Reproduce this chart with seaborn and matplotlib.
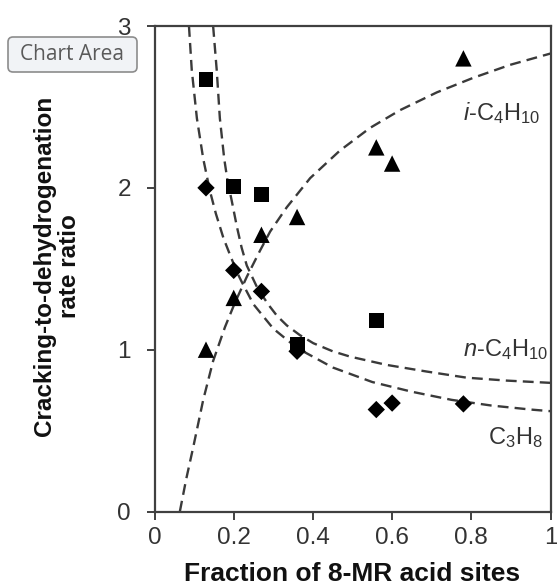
import matplotlib
matplotlib.use("Agg")
import matplotlib.pyplot as plt
import pandas as pd
import seaborn as sns
from matplotlib.patches import FancyBboxPatch

# Measured rate ratios vs. fraction of 8-MR acid sites
frac_nbutane = [0.13, 0.20, 0.27, 0.36, 0.56]
ratio_nbutane = [2.67, 2.01, 1.96, 1.03, 1.18]

frac_propane = [0.13, 0.20, 0.27, 0.36, 0.56, 0.60, 0.78]
ratio_propane = [2.00, 1.49, 1.36, 0.99, 0.63, 0.67, 0.665]

frac_isobutane = [0.13, 0.20, 0.27, 0.36, 0.56, 0.60, 0.78]
ratio_isobutane = [1.00, 1.32, 1.71, 1.82, 2.25, 2.15, 2.80]

# Model curves (dashed)
fit_propane_x = [0.087, 0.094, 0.107, 0.123, 0.140, 0.155, 0.174, 0.190, 0.208,
                 0.220, 0.250, 0.300, 0.360, 0.450, 0.550, 0.650, 0.750, 0.850,
                 0.950, 1.000]
fit_propane_y = [3.00, 2.73, 2.43, 2.18, 1.98, 1.84, 1.69, 1.59, 1.48,
                 1.42, 1.28, 1.13, 1.01, 0.89, 0.80, 0.74, 0.69, 0.655,
                 0.63, 0.62]

fit_nbutane_x = [0.148, 0.157, 0.165, 0.176, 0.184, 0.195, 0.208, 0.220, 0.233,
                 0.260, 0.287, 0.309, 0.334, 0.367, 0.401, 0.450, 0.494, 0.586,
                 0.687, 0.788, 0.889, 1.000]
fit_nbutane_y = [3.00, 2.73, 2.43, 2.18, 2.05, 1.92, 1.76, 1.63, 1.52,
                 1.38, 1.28, 1.21, 1.15, 1.09, 1.04, 0.99, 0.957, 0.906,
                 0.865, 0.827, 0.809, 0.795]

fit_isobutane_x = [0.064, 0.080, 0.098, 0.123, 0.148, 0.178, 0.203, 0.233, 0.266,
                   0.292, 0.334, 0.393, 0.468, 0.544, 0.620, 0.713, 0.805, 0.898,
                   1.000]
fit_isobutane_y = [0.00, 0.20, 0.40, 0.69, 0.93, 1.14, 1.29, 1.45, 1.61,
                   1.73, 1.88, 2.06, 2.23, 2.37, 2.48, 2.59, 2.68, 2.76,
                   2.83]

x_ticks = [0, 0.2, 0.4, 0.6, 0.8, 1]
x_tick_labels = ["0", "0.2", "0.4", "0.6", "0.8", "1"]
y_ticks = [0, 1, 2, 3]
y_tick_labels = ["0", "1", "2", "3"]

sns.set_style("ticks")
plt.rcParams["font.family"] = ["Liberation Sans", "DejaVu Sans"]
plt.rcParams["mathtext.fontset"] = "custom"
plt.rcParams["mathtext.rm"] = "Liberation Sans"
plt.rcParams["mathtext.it"] = "Liberation Sans:italic"
plt.rcParams["mathtext.bf"] = "Liberation Sans:bold"

axis_col = "#404040"
line_col = "#3a3a3a"
text_col = "#333333"

fig = plt.figure(figsize=(5.57, 5.87), dpi=100)
ax = fig.add_axes([0.2774, 0.1286, 0.711, 0.8271])

fits = pd.concat([
    pd.DataFrame({"x": fit_propane_x, "y": fit_propane_y, "series": "C3H8"}),
    pd.DataFrame({"x": fit_nbutane_x, "y": fit_nbutane_y, "series": "n-C4H10"}),
    pd.DataFrame({"x": fit_isobutane_x, "y": fit_isobutane_y, "series": "i-C4H10"}),
], ignore_index=True)

for name, g in fits.groupby("series", sort=False):
    sns.lineplot(data=g, x="x", y="y", sort=False, estimator=None, ax=ax,
                 color=line_col, linewidth=1.7, linestyle=(0, (4.6, 2.6)),
                 zorder=2)

sns.scatterplot(x=frac_nbutane, y=ratio_nbutane, marker="s", s=115,
                color="black", edgecolor="none", ax=ax, zorder=3)
sns.scatterplot(x=frac_propane, y=ratio_propane, marker="D", s=78,
                color="black", edgecolor="none", ax=ax, zorder=3)
sns.scatterplot(x=frac_isobutane, y=ratio_isobutane, marker="^", s=140,
                color="black", edgecolor="none", ax=ax, zorder=3)

ax.set_xlim(0, 1)
ax.set_ylim(0, 3)
ax.set_xticks(x_ticks)
ax.set_xticklabels(x_tick_labels)
ax.set_yticks(y_ticks)
ax.set_yticklabels(y_tick_labels)
ax.tick_params(axis="both", direction="out", length=6, width=1.4,
               color=axis_col, labelsize=17.5, labelcolor=text_col)
ax.tick_params(axis="x", pad=5)
ax.tick_params(axis="y", pad=11)
for sp in ax.spines.values():
    sp.set_visible(True)
    sp.set_color(axis_col)
    sp.set_linewidth(1.6)

ax.set_xlabel("Fraction of 8-MR acid sites", fontsize=19,
              fontweight="bold", color="#111111")
ax.set_ylabel("Cracking-to-dehydrogenation\nrate ratio", fontsize=17.5,
              fontweight="bold", color="#111111", linespacing=1.15)
ax.xaxis.set_label_coords(0.5, -0.103)
ax.yaxis.set_label_coords(-0.185, 0.505)

ax.text(0.975, 2.46, r"$\mathit{i}$-C$_4$H$_{10}$", ha="right", va="center",
        fontsize=17, color=text_col)
ax.text(0.993, 1.00, r"$\mathit{n}$-C$_4$H$_{10}$", ha="right", va="center",
        fontsize=17, color=text_col)
ax.text(0.98, 0.46, r"C$_3$H$_8$", ha="right", va="center",
        fontsize=17, color=text_col)

# Hover tooltip box in the upper-left corner
tip = FancyBboxPatch((0.08, 5.15), 1.29, 0.35,
                     boxstyle="round,pad=0,rounding_size=0.05",
                     transform=fig.dpi_scale_trans, facecolor="#f1f3f6",
                     edgecolor="#8c8c8c", linewidth=1.2, zorder=5)
fig.patches.append(tip)
fig.text(0.72, 5.325, "Chart Area", transform=fig.dpi_scale_trans,
         ha="center", va="center", fontsize=15, color="#5a5a5a",
         family=["Open Sans", "DejaVu Sans"], zorder=6)

fig.savefig("out.png", dpi=100)
